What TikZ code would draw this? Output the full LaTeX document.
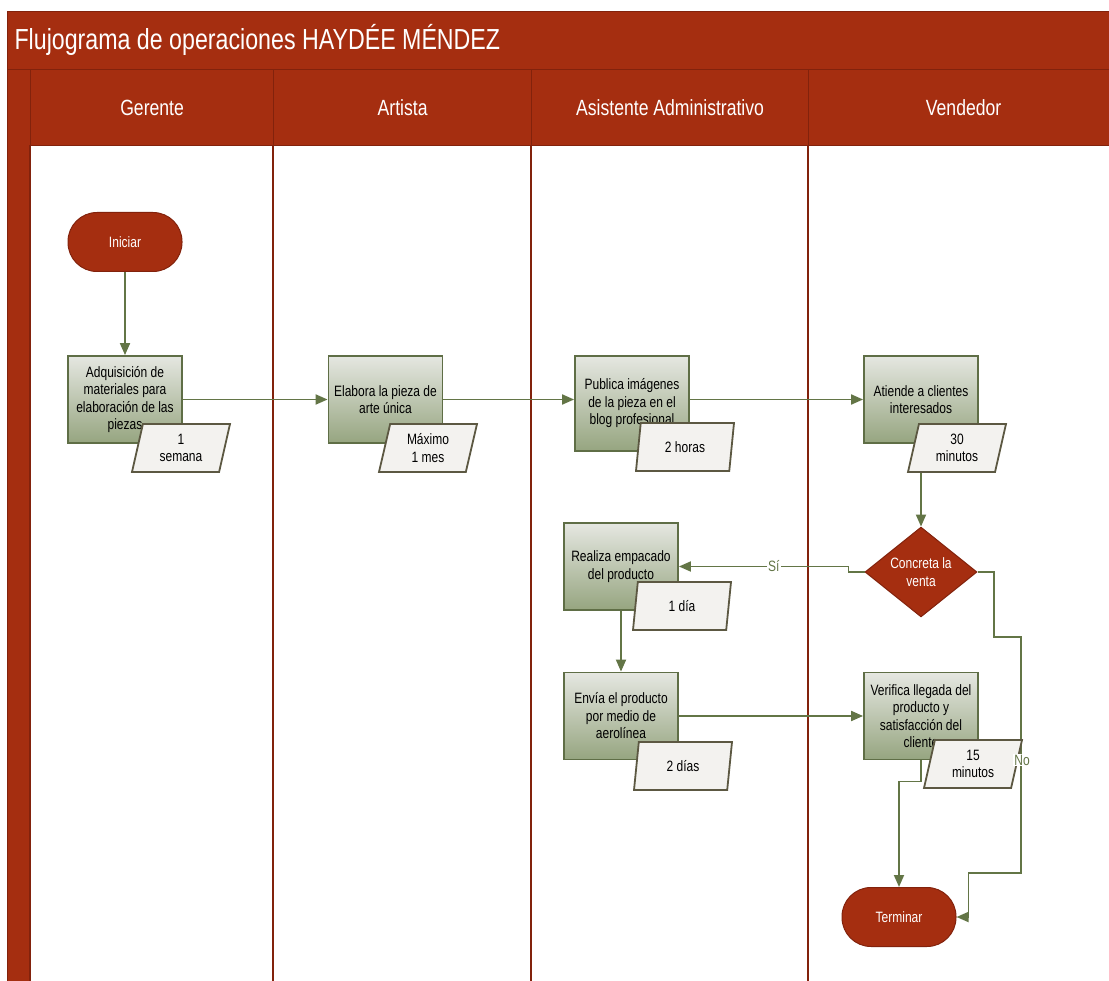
\documentclass[tikz,border=0pt]{standalone}
\usepackage{fontspec}
\setmainfont{Liberation Sans}[FakeStretch=0.8]
\usetikzlibrary{calc, positioning, arrows.meta, shapes.geometric}

\definecolor{lanered}{RGB}{165,46,16}
\definecolor{redline}{RGB}{130,34,12}
\definecolor{flowgreen}{RGB}{99,117,70}
\definecolor{boxline}{RGB}{95,110,70}
\definecolor{boxtop}{RGB}{229,231,225}
\definecolor{boxbot}{RGB}{150,165,128}
\definecolor{parafill}{RGB}{243,242,239}
\definecolor{paraline}{RGB}{92,88,66}

\begin{document}
\begin{tikzpicture}[x=1pt, y=-1pt, >={Triangle[length=12pt,width=10pt]},
  every node/.style={font=\fontsize{15}{17.5}\selectfont},
  band/.style={fill=lanered, draw=redline, line width=1.2pt, inner sep=0pt, text=white},
  laneline/.style={draw=redline, line width=2pt},
  process/.style={draw=boxline, line width=1.8pt, top color=boxtop, bottom color=boxbot, minimum width=114pt, minimum height=87pt, align=center, inner sep=0pt},
  timebox/.style={trapezium, trapezium left angle=70, trapezium right angle=110, trapezium stretches body, draw=paraline, line width=1.8pt, fill=parafill, minimum width=98pt, minimum height=48pt, align=center, inner sep=1pt},
  terminal/.style={draw=redline, line width=1pt, fill=lanered, text=white, rounded corners=29pt, minimum width=114pt, minimum height=59pt},
  decision/.style={diamond, draw=redline, line width=1pt, fill=lanered, text=white, minimum width=112pt, minimum height=89pt, inner sep=0pt, align=center},
  flow/.style={->, draw=flowgreen, line width=1.8pt},
  flowlabel/.style={fill=white, text=flowgreen, inner sep=1pt}]
  \useasboundingbox (0,0) rectangle (1109,981);
  \clip (0,0) rectangle (1109,981);

  % Title band
  \node[band, anchor=north west, minimum width=1111pt, minimum height=58pt] (title) at (7,11) {};
  \node[anchor=west, text=white, font=\fontsize{29}{31}\selectfont] (titletext) at (11,40) {Flujograma de operaciones HAYDÉE MÉNDEZ};

  % Side band
  \node[band, anchor=north west, minimum width=23pt, minimum height=930pt] (side) at (7,69) {};

  % Lanes
  \foreach \name/\xa/\xb/\txt in {ger/30/273/Gerente, art/273/531/Artista, asi/531/808/Asistente Administrativo, ven/808/1118/Vendedor} {
    \node[band, anchor=north west, minimum width={\xb-\xa}, minimum height=76pt, font=\fontsize{22}{24}\selectfont] (\name) at (\xa,69) {\txt};
    \draw[laneline] (\xa,145) -- (\xa,990);
  }

  % Start and end
  \node[terminal] (ini) at (125,242) {Iniciar};
  \node[terminal] (ter) at (899,917) {Terminar};

  % Steps
  \node[process] (adq) at (125,399.5) {Adquisición de\\materiales para\\elaboración de las\\piezas};
  \node[process] (ela) at (385.5,399.5) {Elabora la pieza de\\arte única};
  \node[process, minimum height=95pt] (pub) at (632,403.5) {Publica imágenes\\de la pieza en el\\blog profesional};
  \node[process] (ati) at (921,399.5) {Atiende a clientes\\interesados};
  \node[process] (rea) at (621,566.5) {Realiza empacado\\del producto};
  \node[process] (env) at (621,716) {Envía el producto\\por medio de\\aerolínea};
  \node[process] (ver) at (921,716) {Verifica llegada del\\producto y\\satisfacción del\\cliente};

  % Decision
  \node[decision] (dec) at (921,572) {Concreta la\\venta};

  % Connections
  \draw[flow] (ini) -- (adq);
  \draw[flow] (adq) -- (ela);
  \draw[flow] (ela.east) -- (ela.east -| pub.west);
  \draw[flow] (ati.west -| pub.east) -- (ati.west);
  \draw[flow] (ati) -- (dec);
  \draw[flow] (dec.west) -- ++(-16,0) |- node[flowlabel, pos=0.72] (si) {Sí} (rea.east);
  \draw[flow] (rea) -- (env);
  \draw[flow] (env) -- (ver);
  \draw[flow] (ver.south) -- ++(0,21) -| (ter.north);

  % No branch
  \coordinate (no1) at (994,637);
  \coordinate (no2) at (1021,873);
  \coordinate (no3) at ($(ter.east)+(12,0)$);
  \draw[flow] (dec.east) -| (no1) -| (no2) -| (no3) -- (ter.east);

  % Times
  \node[timebox] (t1) at (181,448) {1\\semana};
  \node[timebox] (t2) at (428,448) {Máximo\\1 mes};
  \node[timebox] (t3) at (685,447) {2 horas};
  \node[timebox] (t4) at (957,448) {30\\minutos};
  \node[timebox] (t5) at (682,606) {1 día};
  \node[timebox] (t6) at (683,766) {2 días};
  \node[timebox] (t7) at (973,764) {15\\minutos};

  \node[flowlabel] (no) at (1022,760) {No};
\end{tikzpicture}
\end{document}
